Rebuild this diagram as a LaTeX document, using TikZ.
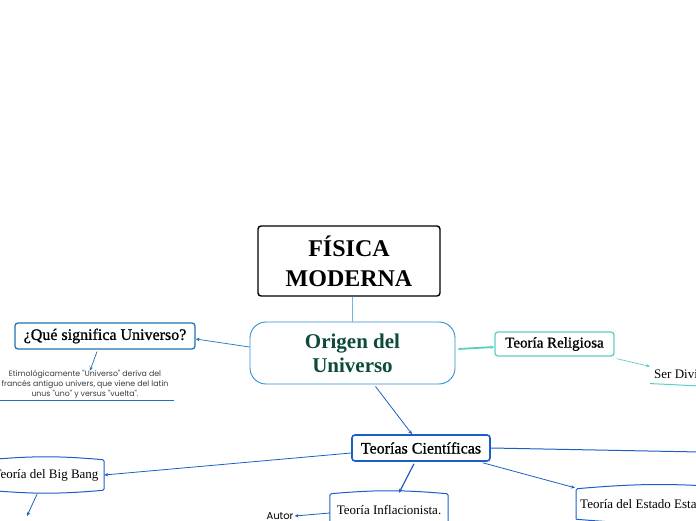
\documentclass[tikz,border=0pt]{standalone}
\usepackage{fontspec}
\setmainfont{Liberation Serif}
\newfontfamily\popfont{Poppins}
\newfontfamily\topicfont{Liberation Serif}[FakeBold=1]
\usetikzlibrary{arrows.meta,positioning}
\definecolor{mapblue}{HTML}{1D72B8}
\definecolor{sciblue}{HTML}{1A5EC6}
\definecolor{skyline}{HTML}{72B6DF}
\definecolor{origline}{HTML}{2E8FCE}
\definecolor{teal}{HTML}{5CCFC3}
\definecolor{darkgreen}{HTML}{0D4A3B}
\definecolor{notegray}{HTML}{3A3A3A}
% wavy-edged box drawn round a named node
\newcommand{\barrel}[1]{%
  \draw[sciblue, line width=1pt, rounded corners=1.5pt]
    (#1.south west) -- (#1.north west) to[bend left=5] (#1.north east)
    -- (#1.south east) to[bend left=5] (#1.south west);}

\begin{document}
\begin{tikzpicture}[x=1pt, y=1pt,
  box/.style={draw, align=center, inner sep=3pt, rounded corners=3pt},
  topic/.style={box, line width=1.3pt, font=\topicfont\fontsize{16}{18}\selectfont},
  leaf/.style={align=center, inner sep=4pt, font=\fontsize{13}{15}\selectfont},
  note/.style={align=center, inner sep=1pt, text=notegray, font=\popfont\fontsize{7.8}{10}\selectfont},
  arr/.style={-{Stealth[length=4pt, width=3.5pt]}, line width=0.8pt}
]
\useasboundingbox (0,0) rectangle (696,520);
\clip (0,0) rectangle (696,520);

\node[box, line width=1.4pt, minimum width=182pt, minimum height=70pt,
      font=\bfseries\fontsize{24}{30}\selectfont] (fis) at (349,259) {FÍSICA\\MODERNA};
\node[box, draw=origline, line width=0.9pt, rounded corners=16pt,
      minimum width=205pt, minimum height=62pt, text=darkgreen,
      font=\bfseries\fontsize{21}{24}\selectfont] (orig) at (352.5,167) {Origen del\\Universo};

\node[topic, draw=mapblue, minimum width=180pt, minimum height=26pt] (que) at (105,184) {¿Qué significa Universo?};
\node[note] (etim) at (85,136) {Etimológicamente "Universo" deriva del\\francés antiguo univers, que viene del latín\\unus "uno" y versus "vuelta".};
\coordinate (etimL) at (0,120);
\coordinate (etimR) at (174,120);

\node[topic, draw=teal, font=\topicfont\fontsize{15}{17}\selectfont,
      minimum width=119pt, minimum height=24pt] (rel) at (554.5,176) {Teoría Religiosa};
\node[leaf, anchor=west] (ser) at (650,146) {Ser Divino};
\coordinate (serR) at (700,134);

\node[topic, draw=sciblue, line width=1.6pt, minimum width=138pt, minimum height=26pt] (cie) at (421,72) {Teorías Científicas};
\coordinate (edge) at (700,68);

\node[leaf, minimum width=116pt, minimum height=30pt] (bb) at (46,45) {Teoría del Big Bang};
\barrel{bb}
\coordinate (bbend) at (27,4);

\node[leaf, minimum width=118pt, minimum height=32pt] (infl) at (389,10) {Teoría Inflacionista.};
\barrel{infl}
\node[note, text=black, font=\popfont\fontsize{10}{12}\selectfont] (autor) at (280,4) {Autor};

\node[leaf, anchor=west, minimum height=30pt] (est) at (576,16) {Teoría del Estado Estacionario};
\barrel{est}

\draw[skyline, line width=0.9pt] ([xshift=3pt]fis.south) -- ([xshift=-0.5pt]orig.north);
\draw[arr, mapblue, line width=0.7pt] ([yshift=6pt]orig.west) -- ([yshift=-3pt]que.east);
\draw[arr, mapblue, line width=0.7pt] ([xshift=-8pt,yshift=-2pt]que.south) -- ([xshift=5pt,yshift=-2pt]etim.north);
\draw[mapblue, line width=1pt] (etimL) -- (etimR);

\draw[arr, teal, line width=1.8pt] ([xshift=3pt,yshift=4pt]orig.east) -- ([yshift=-3pt]rel.west);
\draw[arr, teal, line width=0.7pt] ([xshift=2pt,yshift=-2pt]rel.south east) -- ([yshift=-1pt]ser.north west);
\draw[teal, line width=1pt] ([yshift=-1pt]ser.south west) -- (serR);

\draw[arr, sciblue] ([xshift=23pt,yshift=-2pt]orig.south) -- ([xshift=-9pt]cie.north);
\draw[sciblue, line width=1pt] (cie.east) -- (edge);
\draw[arr, sciblue] ([yshift=-5pt]cie.west) -- (bb.east);
\draw[arr, sciblue] ([xshift=-9pt,yshift=-4pt]bb.south) -- (bbend);
\draw[arr, sciblue, line width=1.2pt] ([xshift=-7pt,yshift=-2pt]cie.south) -- ([xshift=10pt,yshift=1pt]infl.north);
\draw[arr, sciblue] ([yshift=-3pt]infl.west) -- (autor.east);
\draw[arr, sciblue] ([xshift=-8pt,yshift=-1pt]cie.south east) -- ([xshift=-1pt,yshift=1pt]est.north west);
\end{tikzpicture}
\end{document}
